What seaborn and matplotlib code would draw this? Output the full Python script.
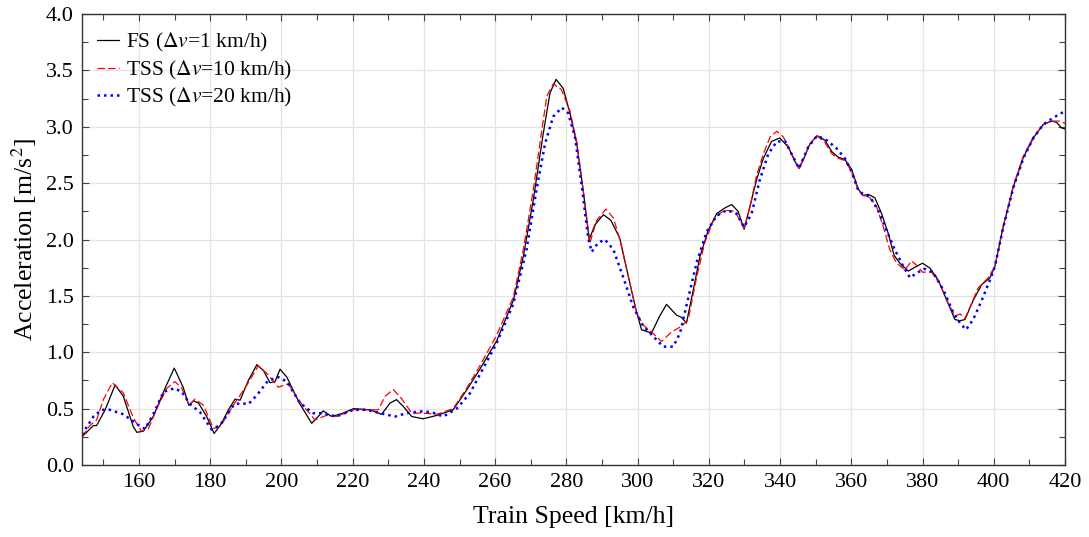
# acceleration vs train speed, FS vs two TSS step sizes
import numpy as np
import pandas as pd
import matplotlib
matplotlib.use("Agg")
import matplotlib.pyplot as plt
from matplotlib.ticker import MultipleLocator
import seaborn as sns

# ---------- Data ----------

speed_fs = [144, 147.2, 148.1, 150.5, 153.3, 155.6, 158.4, 159.4, 161.2, 164, 167.3, 169.9,
            172.4, 174, 175.3, 176.7, 179, 181.1, 183.2, 185.1, 187, 188.4, 190.7, 193.1,
            194.9, 196.8, 198.2, 199.6, 201.5, 205.2, 208.5, 210.3, 211.7, 214.1, 217.3,
            220.2, 224.9, 228.1, 230.5, 232.3, 234.2, 236.6, 239.8, 243.6, 248.2, 252,
            255.7, 260.4, 265.1, 267.9, 270.7, 273.5, 275.4, 277.1, 279.1, 281, 282.9,
            284.7, 286.4, 288, 290.4, 292.5, 295, 297.2, 299.5, 301.1, 303.9, 306.1, 308.1,
            310.9, 312.3, 313.7, 315.6, 317.5, 319.8, 322.2, 324.5, 326.4, 328.2, 329.9,
            331.5, 333.4, 335.3, 337.6, 339.9, 342.3, 344.2, 345.3, 346.7, 348.4, 350.4,
            352.6, 354.5, 356.3, 358.2, 360.1, 361.9, 363.2, 364.8, 366.6, 368.5, 370.4,
            372, 373.6, 376, 378.2, 380, 382.1, 384.4, 386.8, 389.1, 390.5, 391.9, 394.2,
            396.6, 398.9, 400.3, 402.6, 405.5, 408.3, 411.1, 413.9, 416.2, 417.6, 419, 420]
acc_fs = [0.25, 0.35, 0.35, 0.49, 0.71, 0.61, 0.34, 0.29, 0.30, 0.43, 0.68, 0.86,
          0.69, 0.53, 0.57, 0.55, 0.43, 0.28, 0.37, 0.49, 0.585, 0.575, 0.75, 0.89,
          0.84, 0.73, 0.74, 0.85, 0.78, 0.54, 0.37, 0.43, 0.48, 0.43, 0.46,
          0.50, 0.49, 0.45, 0.55, 0.58, 0.52, 0.43, 0.41, 0.44, 0.49, 0.665,
          0.85, 1.10, 1.46, 1.85, 2.35, 2.94, 3.30, 3.42, 3.34, 3.12, 2.85,
          2.44, 2.00, 2.13, 2.22, 2.17, 2.01, 1.70, 1.38, 1.20, 1.17, 1.315, 1.425,
          1.33, 1.31, 1.26, 1.55, 1.85, 2.08, 2.23, 2.28, 2.31, 2.25, 2.09,
          2.29, 2.53, 2.72, 2.87, 2.90, 2.82, 2.69, 2.63, 2.72, 2.85, 2.92,
          2.88, 2.78, 2.73, 2.71, 2.62, 2.45, 2.39, 2.40, 2.37, 2.23, 2.05,
          1.86, 1.79, 1.72, 1.76, 1.79, 1.745, 1.64, 1.46, 1.29, 1.28, 1.29, 1.46,
          1.60, 1.66, 1.76, 2.11, 2.47, 2.73, 2.90, 3.02, 3.05, 3.04, 2.99, 2.98]

speed_tss10 = [144, 146.2, 148.1, 150, 152.5, 155.6, 158.4, 160.7, 162.6, 165, 167.8, 170.1,
               172, 174.1, 175.7, 178.1, 180.9, 182.8, 186.5, 190.3, 193.5, 196.3, 199.1,
               201.9, 205.2, 209.4, 212.6, 215.4, 220.2, 223.9, 227.2, 229.1, 231.4, 233.7,
               236.6, 239.8, 243.6, 248.2, 252, 255.7, 260.4, 265.1, 267.9, 270.7, 273.1,
               274.5, 276.3, 278.6, 281, 282.9, 284.7, 286.6, 288.5, 291.1, 293.2, 295,
               297.4, 299.7, 301.6, 303.9, 306.7, 309.5, 312.3, 314.2, 316.6, 318.9, 321.7,
               324.5, 327.3, 329.9, 331.5, 333.4, 335.3, 337.2, 339.1, 340.9, 342.8, 345.3,
               348.4, 350.4, 352.6, 354.5, 356.3, 358.2, 360.1, 361.9, 363.4, 365.2, 367.1,
               369, 370.8, 372.7, 375.1, 376.9, 378.4, 380, 382.5, 384.8, 387.3, 389.1,
               390.5, 391.9, 393.3, 395.6, 398.4, 400.3, 402.6, 405.5, 408.3, 411.1, 413.9,
               416.2, 418.5, 420]
acc_tss10 = [0.25, 0.35, 0.40, 0.58, 0.73, 0.64, 0.42, 0.30, 0.32, 0.50, 0.68, 0.74,
             0.68, 0.53, 0.585, 0.53, 0.325, 0.34, 0.53, 0.71, 0.88, 0.80, 0.69,
             0.72, 0.56, 0.40, 0.44, 0.43, 0.49, 0.49, 0.49, 0.61, 0.67, 0.59,
             0.46, 0.46, 0.45, 0.50, 0.68, 0.88, 1.15, 1.49, 1.91, 2.44, 2.97,
             3.27, 3.38, 3.33, 3.14, 2.87, 2.44, 1.97, 2.17, 2.27, 2.19, 2.00,
             1.67, 1.35, 1.24, 1.18, 1.095, 1.18, 1.23, 1.29, 1.67, 1.98, 2.20,
             2.26, 2.25, 2.10, 2.28, 2.57, 2.76, 2.91, 2.96, 2.91, 2.79, 2.63,
             2.85, 2.92, 2.86, 2.76, 2.72, 2.70, 2.60, 2.44, 2.39, 2.37, 2.29,
             2.11, 1.91, 1.79, 1.73, 1.81, 1.77, 1.71, 1.71, 1.61, 1.43, 1.32,
             1.34, 1.30, 1.40, 1.57, 1.66, 1.76, 2.11, 2.48, 2.74, 2.91, 3.02,
             3.05, 3.05, 3.03]

speed_tss20 = [144, 147.2, 149.5, 151.8, 155.6, 159.8, 161.7, 164, 166.9, 169.9, 172, 174.3,
               177.1, 180.4, 182.8, 186.5, 188.4, 190.7, 193.1, 196.3, 199.1, 201.5, 205.2,
               208.9, 211.7, 215.4, 220.2, 223.9, 227.7, 231.9, 235.1, 238.9, 242.1, 245.4,
               249.2, 252.9, 256, 260.4, 265.1, 268.8, 271.6, 274, 276.3, 278.7, 280.5,
               282.4, 284.2, 286.1, 287.1, 288.9, 290.8, 293.2, 295.9, 298.8, 301.6, 304.4,
               307.2, 310, 311.9, 314.2, 316.6, 319.4, 322.2, 325, 327.8, 329.9, 332,
               334.3, 336.7, 339.1, 341.4, 343.7, 345.3, 347.9, 350.4, 353.1, 355.8, 358.2,
               360.1, 361.9, 363.4, 365.2, 367.5, 369.9, 372.2, 374.6, 376.5, 378.2, 380.5,
               382.9, 385.9, 388.7, 390.5, 392.2, 394.2, 396.6, 398.9, 400.3, 402.6, 405.5,
               408.3, 411.1, 413.9, 416.7, 419.5, 420]
acc_tss20 = [0.27, 0.43, 0.49, 0.49, 0.45, 0.355, 0.32, 0.45, 0.65, 0.68, 0.65, 0.54,
             0.47, 0.315, 0.355, 0.53, 0.55, 0.54, 0.62, 0.75, 0.78, 0.74, 0.55,
             0.46, 0.46, 0.43, 0.49, 0.49, 0.46, 0.43, 0.46, 0.475, 0.47, 0.43,
             0.50, 0.635, 0.82, 1.08, 1.43, 1.91, 2.44, 2.85, 3.09, 3.17, 3.12,
             2.91, 2.50, 2.02, 1.89, 1.97, 2.00, 1.91, 1.67, 1.40, 1.23, 1.14,
             1.05, 1.05, 1.17, 1.48, 1.80, 2.07, 2.21, 2.26, 2.23, 2.11, 2.23,
             2.53, 2.76, 2.87, 2.87, 2.73, 2.63, 2.82, 2.92, 2.88, 2.81, 2.72,
             2.60, 2.44, 2.40, 2.38, 2.26, 2.08, 1.91, 1.76, 1.66, 1.70, 1.74,
             1.71, 1.55, 1.345, 1.26, 1.20, 1.29, 1.46, 1.64, 1.76, 2.10, 2.46,
             2.72, 2.90, 3.02, 3.08, 3.13, 3.13]

labels = [r"FS ($\Delta v$=1 km/h)", r"TSS ($\Delta v$=10 km/h)", r"TSS ($\Delta v$=20 km/h)"]

# ---------- Style ----------

sns.set_style("whitegrid")
plt.rcParams["font.family"] = ["Liberation Serif", "DejaVu Serif"]
plt.rcParams["mathtext.fontset"] = "stix"
plt.rcParams["axes.edgecolor"] = "black"
plt.rcParams["text.color"] = "black"
plt.rcParams["axes.labelcolor"] = "black"
plt.rcParams["xtick.color"] = "black"
plt.rcParams["ytick.color"] = "black"
plt.rcParams["grid.color"] = "#e3e3e3"
plt.rcParams["grid.linewidth"] = 0.9

fig = plt.figure(figsize=(10.89, 5.37), dpi=100)
ax = fig.add_axes([0.0753, 0.134, 0.9027, 0.840])

sns.lineplot(x=speed_fs, y=acc_fs, ax=ax, color="black", linewidth=0.9,
             label=labels[0], sort=False)
sns.lineplot(x=speed_tss10, y=acc_tss10, ax=ax, color="red", linewidth=0.9,
             linestyle=(0, (6, 2.5)), label=labels[1], sort=False)
sns.lineplot(x=speed_tss20, y=acc_tss20, ax=ax, color="blue", linewidth=1.8,
             linestyle=(0, (1, 1.6)), label=labels[2], sort=False)

ax.set_xlim(144, 420)
ax.set_ylim(0, 4)
ax.xaxis.set_major_locator(MultipleLocator(20))
ax.xaxis.set_minor_locator(MultipleLocator(10))
ax.yaxis.set_major_locator(MultipleLocator(0.5))
ax.yaxis.set_minor_locator(MultipleLocator(0.25))
ax.yaxis.set_major_formatter(matplotlib.ticker.FormatStrFormatter("%.1f"))
ax.grid(True, which="major")
ax.grid(False, which="minor")

ax.tick_params(which="both", direction="in", top=True, right=True,
               bottom=True, left=True, color="#444444", width=0.8)
ax.tick_params(which="major", length=5, labelsize=16, pad=6)
ax.tick_params(which="minor", length=4)
for s in ax.spines.values():
    s.set_color("#333333")
    s.set_linewidth(1.0)

ax.set_xlabel("Train Speed [km/h]", fontsize=18.5, labelpad=10)
ax.set_ylabel(r"Acceleration [m/s$^2$]", fontsize=18.5, labelpad=5)

leg = ax.legend(loc="upper left", frameon=False, fontsize=15.5,
                handlelength=1.0, handletextpad=0.35, labelspacing=0.2,
                borderaxespad=0.3, bbox_to_anchor=(0.0, 0.995))

fig.savefig("out.png", dpi=100)
